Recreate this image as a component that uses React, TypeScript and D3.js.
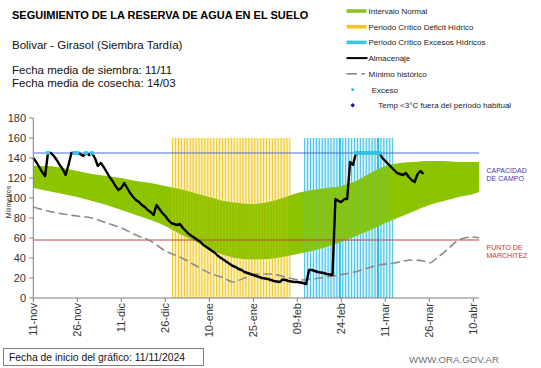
import React from "react";
import * as d3 from "d3";

// ---- Data ----
const tickLabels = ["11-nov", "26-nov", "11-dic", "26-dic", "10-ene", "25-ene", "09-feb", "24-feb", "11-mar", "26-mar", "10-abr"];
const yTicks = [0, 20, 40, 60, 80, 100, 120, 140, 160, 180];

const capacidadCampo = 145;
const puntoMarchitez = 58;
const periodoTop = 160;

// Intervalo normal (banda verde)
const bandDays = [0, 5, 10, 15, 20, 25, 30, 35, 40, 45, 50, 55, 60, 65, 70, 75, 80, 85, 90, 95, 100, 105, 110, 115, 120, 125, 130, 135, 140, 145, 150, 152];
const bandUpper = [132, 132, 130, 127, 124, 122, 120, 117, 115, 112, 109, 105, 101, 97, 95, 94, 96, 100, 105, 108, 110, 112, 117, 125, 132, 135, 136, 137, 137, 136, 136, 136];
const bandLower = [110, 107, 104, 101, 97, 93, 88, 83, 78, 72, 64, 57, 49, 43, 39.5, 38.5, 39, 41, 44, 47, 51, 56, 62, 68, 75, 81, 87, 93, 97, 101, 104, 106];

// Mínimo histórico
const minDays = [0, 5, 10, 15, 20, 25, 30, 35, 40, 45, 50, 55, 60, 65, 68, 72, 76, 81, 86, 91, 95, 100, 104, 108, 113, 118, 123, 129, 133, 135, 138, 141, 145, 147, 150, 152];
const minVals = [91, 87, 84, 82, 80, 75, 70, 63, 57, 47, 41, 33, 25, 20, 16, 20, 24, 24, 21, 18, 19, 21, 23, 25, 29, 33, 35, 38, 37, 35, 41, 48, 58, 60, 61, 60];

// Almacenaje (día desde 11/11)
const almDays = [0, 1, 2, 3, 4, 5, 6, 7, 8, 9, 10, 11, 12, 13, 14, 15, 16, 17, 18, 19, 20, 21, 22, 23, 24, 25, 26, 27, 28, 29, 30, 31, 32, 33, 34, 35, 36, 37, 38, 39, 40, 41, 42, 43, 44, 45, 46, 47, 48, 49, 50, 51, 52, 53, 54, 55, 56, 57, 58, 59, 60, 61, 62, 63, 64, 65, 66, 67, 68, 69, 70, 71, 72, 73, 74, 75, 76, 77, 78, 79, 80, 81, 82, 83, 84, 85, 86, 87, 88, 89, 90, 91, 92, 93, 94, 95, 96, 97, 98, 99, 100, 101, 102, 103, 104, 105, 106, 107, 108, 109, 110, 111, 112, 113, 114, 115, 116, 117, 118, 119, 120, 121, 122, 123, 124, 125, 126, 127, 128, 129, 130, 131, 132, 133];
const almVals = [140, 136, 131, 126, 122, 145, 145, 142, 138, 133, 129, 123, 133, 145, 145, 145, 144, 142, 145, 143, 145, 140, 132, 135, 131, 126, 121, 117, 112, 108, 110, 115, 110, 105, 101, 98, 96, 93, 91, 88, 86, 83, 93, 89, 85, 82, 78, 75, 74, 73, 74, 70, 67, 64, 62, 60, 58, 56, 53, 51, 49, 47, 45, 42, 40, 38, 36, 34, 32, 31, 29, 28, 26, 25, 24, 23, 22, 21, 20, 19.5, 19, 18, 17, 16.5, 16, 18.5, 18, 17, 16.5, 16, 16, 15.5, 15, 14, 28, 28, 27, 26, 25.5, 25, 24, 23.5, 23, 99, 97, 96, 99, 99, 136, 133, 145, 145, 145, 145, 145, 145, 145, 145, 145, 140, 137, 134, 131, 128, 125, 124, 123, 125, 121, 118, 116, 124, 127, 124];

// Exceso
const excesoDays = [5, 14, 15, 18, 20, 110, 111, 112, 113, 114, 115, 116, 117, 118];

// Periodos críticos
const deficitDays = d3.range(48, 88);
const excesoPeriodDays = d3.range(93, 123);

const legendItems = ["Intervalo Normal", "Periodo Crítico Déficit Hídrico", "Periodo Crítico Excesos Hídricos", "Almacenaje", "Mínimo histórico", "Exceso", "Temp <3°C fuera del período habitual"];

const FONT = "'Liberation Sans', Arial, sans-serif";

export default function App() {
  const x = d3.scaleLinear().domain([0, 150]).range([33.3, 473.3]);
  const y = d3.scaleLinear().domain([0, 180]).range([298, 118]);
  const xEnd = x(152);

  const band = d3.area<number>()
    .x((_, i) => x(bandDays[i]))
    .y0((_, i) => y(bandLower[i]))
    .y1((_, i) => y(bandUpper[i]))
    .curve(d3.curveMonotoneX);
  const minLine = d3.line<number>().x((_, i) => x(minDays[i])).y((d) => y(d)).curve(d3.curveMonotoneX);
  const almLine = d3.line<number>().x((_, i) => x(almDays[i])).y((d) => y(d));

  const dayW = x(1) - x(0);

  const periodBars = (days: number[], bg: string, line: string, key: string) => (
    <g key={key}>
      <rect x={x(days[0] - 0.5)} y={y(periodoTop)} width={x(days[days.length - 1] + 0.5) - x(days[0] - 0.5)} height={y(0) - y(periodoTop)} fill={bg} />
      {days.map((d) => (
        <line key={d} x1={x(d - 0.5)} x2={x(d - 0.5)} y1={y(periodoTop)} y2={y(0)} stroke={line} strokeWidth={1} />
      ))}
      <line x1={x(days[days.length - 1] + 0.5)} x2={x(days[days.length - 1] + 0.5)} y1={y(periodoTop)} y2={y(0)} stroke={line} strokeWidth={1} />
    </g>
  );

  const periodOverlay = (days: number[], line: string, key: string) => (
    <g key={key} opacity={0.3}>
      {days.map((d) => (
        <line key={d} x1={x(d - 0.5)} x2={x(d - 0.5)} y1={y(periodoTop)} y2={y(0)} stroke={line} strokeWidth={1} />
      ))}
    </g>
  );

  const lx = 346.5;
  const ly = (i: number) => 11 + i * 15.7;

  return (
    <svg width={541} height={368} style={{ position: "absolute", left: 0, top: 0, background: "#fff" }} fontFamily={FONT}>
      <rect width={541} height={368} fill="#fff" />
      {/* Title and info */}
      <text x={12} y={19} fontSize={11} fontWeight="bold" fill="#000">SEGUIMIENTO DE LA RESERVA DE AGUA  EN EL SUELO</text>
      <text x={12} y={49} fontSize={11.5} fill="#111">Bolivar  - Girasol (Siembra Tardía)</text>
      <text x={12} y={74} fontSize={11.5} fill="#111">Fecha media de siembra: 11/11</text>
      <text x={12} y={87} fontSize={11.5} fill="#111">Fecha media de cosecha: 14/03</text>

      {/* Legend */}
      <g fontSize={8} fill="#222">
        <rect x={lx} y={ly(0) - 1.8} width={20} height={3.6} fill="#8dc21f" />
        <rect x={lx} y={ly(1) - 1.8} width={20} height={3.6} fill="#f7c518" />
        <rect x={lx} y={ly(2) - 1.8} width={20} height={3.6} fill="#3cc5ea" />
        <line x1={lx} x2={lx + 21} y1={ly(3)} y2={ly(3)} stroke="#000" strokeWidth={2} />
        <line x1={lx} x2={lx + 10.5} y1={ly(4)} y2={ly(4)} stroke="#808080" strokeWidth={1.5} />
        <line x1={lx + 15} x2={lx + 18.5} y1={ly(4)} y2={ly(4)} stroke="#808080" strokeWidth={1.5} />
        <circle cx={352.7} cy={ly(5)} r={1.5} fill="#2ec4ea" />
        <path d={`M352.7,${ly(6) - 2.3}L355,${ly(6)}L352.7,${ly(6) + 2.3}L350.4,${ly(6)}Z`} fill="#1a1a99" />
        {legendItems.map((t, i) => (
          <text key={t} x={i === 5 ? 371.7 : i === 6 ? 378.3 : 368.5} y={ly(i) + 3} fill="#222">{t}</text>
        ))}
      </g>

      {/* Critical period bars */}
      {periodBars(deficitDays, "#fdf3c6", "#f3c92a", "def")}
      {periodBars(excesoPeriodDays, "#dbf3fb", "#45c6ea", "exc")}
      {[104.5, 117.5].map((d) => (
        <line key={d} x1={x(d)} x2={x(d)} y1={y(periodoTop)} y2={y(0)} stroke="#20b8e4" strokeWidth={1.8} />
      ))}

      {/* Normal band */}
      <path d={band(bandDays) || ""} fill="#8dc400" />
      {periodOverlay(deficitDays, "#f3c92a", "defo")}
      {periodOverlay(excesoPeriodDays, "#45c6ea", "exco")}

      {/* Reference lines */}
      <line x1={x(0)} x2={xEnd} y1={y(capacidadCampo)} y2={y(capacidadCampo)} stroke="#4a6fd0" strokeWidth={1} />
      <line x1={x(0)} x2={xEnd} y1={y(puntoMarchitez)} y2={y(puntoMarchitez)} stroke="#c04545" strokeWidth={1} />

      {/* Minimo historico */}
      <path d={minLine(minVals) || ""} fill="none" stroke="#8a8a8a" strokeWidth={1.6} strokeDasharray="9,4" />

      {/* Almacenaje */}
      <path d={almLine(almVals) || ""} fill="none" stroke="#000" strokeWidth={2.4} strokeLinejoin="round" />

      {/* Exceso markers */}
      {excesoDays.map((d) => (
        <rect key={d} x={x(d) - 2} y={y(capacidadCampo) - 1.8} width={4} height={3.6} fill="#2ec4ea" />
      ))}

      {/* Axes */}
      <line x1={x(0)} x2={x(0)} y1={y(180)} y2={y(0)} stroke="#7f7f7f" strokeWidth={1} />
      <line x1={x(0)} x2={xEnd} y1={y(0)} y2={y(0)} stroke="#7f7f7f" strokeWidth={1} />
      {yTicks.map((t) => (
        <g key={t}>
          <line x1={x(0) - 4} x2={x(0)} y1={y(t)} y2={y(t)} stroke="#7f7f7f" />
          <text x={26} y={y(t)} dy="0.35em" textAnchor="end" fontSize={11} fill="#333">{t}</text>
        </g>
      ))}
      {tickLabels.map((t, i) => (
        <g key={t}>
          <line x1={x(i * 15)} x2={x(i * 15)} y1={y(0)} y2={y(0) + 4} stroke="#7f7f7f" />
          <text transform={`translate(${x(i * 15)},${y(0) + 5}) rotate(-90)`} dy="0.35em" textAnchor="end" fontSize={11} fill="#333">{t}</text>
        </g>
      ))}
      <text transform="translate(9,202) rotate(-90)" dy="0.35em" textAnchor="middle" fontSize={7} fill="#333">Milímetros</text>

      {/* Right labels */}
      <g fontSize={7} fill="#3b3bb5">
        <text x={486.5} y={173}>CAPACIDAD</text>
        <text x={486.5} y={181}>DE  CAMPO</text>
      </g>
      <g fontSize={7} fill="#c83535">
        <text x={486.5} y={249.5}>PUNTO  DE</text>
        <text x={486.5} y={257.5}>MARCHITEZ</text>
      </g>

      {/* Footer */}
      <rect x={3.5} y={348.5} width={200} height={17} fill="#fff" stroke="#8b7b7b" />
      <text x={9} y={361} fontSize={10.5} fill="#111" textLength={176} lengthAdjust="spacingAndGlyphs">Fecha de inicio del gráfico:  11/11/2024</text>
      <text x={409} y={363} fontSize={9} fill="#707070" textLength={90} lengthAdjust="spacingAndGlyphs">WWW.ORA.GOV.AR</text>
    </svg>
  );
}
